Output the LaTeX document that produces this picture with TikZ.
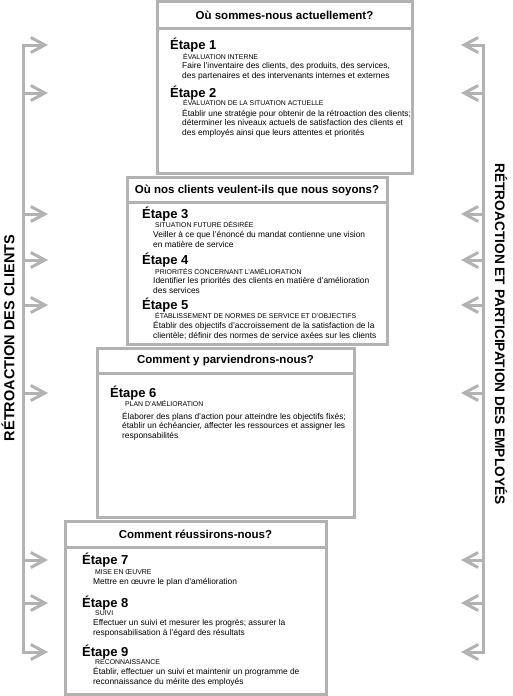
\documentclass[tikz,border=0pt]{standalone}
\usepackage{fontspec}
\setmainfont{Liberation Sans}
\usetikzlibrary{arrows.meta}
\definecolor{trait}{gray}{0.7}
\tikzset{
  cadre/.style={draw=trait, line width=3pt},
  titre/.style={font=\fontsize{11.5}{13}\selectfont\bfseries, inner sep=0pt},
  etape/.style={font=\fontsize{13}{15}\selectfont\bfseries, anchor=west, inner sep=0pt},
  rubrique/.style={font=\fontsize{6.9}{8}\selectfont, anchor=west, inner sep=0pt},
  texte/.style={font=\fontsize{8.4}{9.4}\selectfont, align=left, anchor=north west, inner sep=0pt},
  axe/.style={draw=trait, line width=3pt, line cap=rect},
  fleche/.style={draw=trait, line width=3pt, -{Straight Barb[length=14pt,width=15pt]}},
  cote/.style={font=\fontsize{14.5}{16}\selectfont\bfseries, inner sep=0pt}
}
\begin{document}
\begin{tikzpicture}[x=1pt, y=-1pt]
    \useasboundingbox (0,0) rectangle (512,696);
    % cadres
    \draw[cadre] (157,1.5) rectangle (412,173);
    \draw[cadre] (157,28) -- (412,28);
    \draw[cadre] (127,177) rectangle (387,344);
    \draw[cadre] (127,202) -- (387,202);
    \draw[cadre] (97,348) rectangle (354,517);
    \draw[cadre] (97,373) -- (354,373);
    \draw[cadre] (65,521) rectangle (326,694);
    \draw[cadre] (65,547) -- (326,547);
    % titres
    \node[titre] (titre1) at (284.5,15) {Où sommes-nous actuellement?};
    \node[titre] (titre2) at (257,190) {Où nos clients veulent-ils que nous soyons?};
    \node[titre] (titre3) at (225.5,361) {Comment y parviendrons-nous?};
    \node[titre] (titre4) at (195.5,534) {Comment réussirons-nous?};
    % etapes 1 et 2
    \node[etape] (etape1) at (170,45) {Étape 1};
    \node[rubrique] (rub1) at (183,57) {ÉVALUATION INTERNE};
    \node[texte] (texte1) at (182,62.5) {Faire l'inventaire des clients, des produits, des services,\\des partenaires et des intervenants internes et externes};
    \node[etape] (etape2) at (170,93) {Étape 2};
    \node[rubrique] (rub2) at (183,103) {ÉVALUATION DE LA SITUATION ACTUELLE};
    \node[texte] (texte2) at (182,109) {Établir une stratégie pour obtenir de la rétroaction des clients;\\déterminer les niveaux actuels de satisfaction des clients et\\des employés ainsi que leurs attentes et priorités};
    % etapes 3 a 5
    \node[etape] (etape3) at (142,214) {Étape 3};
    \node[rubrique] (rub3) at (155,225) {SITUATION FUTURE DÉSIRÉE};
    \node[texte] (texte3) at (153,231.5) {Veiller à ce que l'énoncé du mandat contienne une vision\\en matière de service};
    \node[etape] (etape4) at (142,260) {Étape 4};
    \node[rubrique] (rub4) at (155,272) {PRIORITÉS CONCERNANT L'AMÉLIORATION};
    \node[texte] (texte4) at (153,277.5) {Identifier les priorités des clients en matière d'amélioration\\des services};
    \node[etape] (etape5) at (142,305) {Étape 5};
    \node[rubrique] (rub5) at (155,316) {ÉTABLISSEMENT DE NORMES DE SERVICE ET D'OBJECTIFS};
    \node[texte] (texte5) at (153,321.5) {Établir des objectifs d'accroissement de la satisfaction de la\\clientèle; définir des normes de service axées sur les clients};
    % etape 6
    \node[etape] (etape6) at (110,393) {Étape 6};
    \node[rubrique] (rub6) at (125,404) {PLAN D'AMÉLIORATION};
    \node[texte] (texte6) at (122,412) {Élaborer des plans d'action pour atteindre les objectifs fixés;\\établir un échéancier, affecter les ressources et assigner les\\responsabilités};
    % etapes 7 a 9
    \node[etape] (etape7) at (82,560) {Étape 7};
    \node[rubrique] (rub7) at (95,572) {MISE EN ŒUVRE};
    \node[texte] (texte7) at (93,578.5) {Mettre en œuvre le plan d'amélioration};
    \node[etape] (etape8) at (82,603) {Étape 8};
    \node[rubrique] (rub8) at (95,613) {SUIVI};
    \node[texte] (texte8) at (93,619.5) {Effectuer un suivi et mesurer les progrès; assurer la\\responsabilisation à l'égard des résultats};
    \node[etape] (etape9) at (82,652) {Étape 9};
    \node[rubrique] (rub9) at (95,662) {RECONNAISSANCE};
    \node[texte] (texte9) at (93,667.5) {Établir, effectuer un suivi et maintenir un programme de\\reconnaissance du mérite des employés};
    % retroaction des clients (gauche)
    \coordinate (g1) at (23,45);  \coordinate (pg1) at (48,45);
    \coordinate (g2) at (23,93);  \coordinate (pg2) at (48,93);
    \coordinate (g3) at (23,214); \coordinate (pg3) at (48,214);
    \coordinate (g4) at (23,260); \coordinate (pg4) at (48,260);
    \coordinate (g5) at (23,305); \coordinate (pg5) at (48,305);
    \coordinate (g6) at (23,393); \coordinate (pg6) at (48,393);
    \coordinate (g7) at (23,560); \coordinate (pg7) at (48,560);
    \coordinate (g8) at (23,603); \coordinate (pg8) at (48,603);
    \coordinate (g9) at (23,652); \coordinate (pg9) at (48,652);
    \draw[axe] (g1) -- (g9);
    \draw[fleche] (g1) -- (pg1);
    \draw[fleche] (g2) -- (pg2);
    \draw[fleche] (g3) -- (pg3);
    \draw[fleche] (g4) -- (pg4);
    \draw[fleche] (g5) -- (pg5);
    \draw[fleche] (g6) -- (pg6);
    \draw[fleche] (g7) -- (pg7);
    \draw[fleche] (g8) -- (pg8);
    \draw[fleche] (g9) -- (pg9);
    % retroaction et participation des employes (droite)
    \coordinate (d1) at (483,45);  \coordinate (pd1) at (461,45);
    \coordinate (d2) at (483,93);  \coordinate (pd2) at (461,93);
    \coordinate (d3) at (483,214); \coordinate (pd3) at (461,214);
    \coordinate (d4) at (483,260); \coordinate (pd4) at (461,260);
    \coordinate (d5) at (483,305); \coordinate (pd5) at (461,305);
    \coordinate (d6) at (483,393); \coordinate (pd6) at (461,393);
    \coordinate (d7) at (483,560); \coordinate (pd7) at (461,560);
    \coordinate (d8) at (483,603); \coordinate (pd8) at (461,603);
    \coordinate (d9) at (483,652); \coordinate (pd9) at (461,652);
    \draw[axe] (d1) -- (d9);
    \draw[fleche] (d1) -- (pd1);
    \draw[fleche] (d2) -- (pd2);
    \draw[fleche] (d3) -- (pd3);
    \draw[fleche] (d4) -- (pd4);
    \draw[fleche] (d5) -- (pd5);
    \draw[fleche] (d6) -- (pd6);
    \draw[fleche] (d7) -- (pd7);
    \draw[fleche] (d8) -- (pd8);
    \draw[fleche] (d9) -- (pd9);
    % libelles lateraux
    \node[cote, rotate=90] (clients) at (8,338) {RÉTROACTION DES CLIENTS};
    \node[cote, rotate=-90, font=\fontsize{13.7}{16}\selectfont\bfseries] (employes) at (501,334) {RÉTROACTION ET PARTICIPATION DES EMPLOYÉS};
\end{tikzpicture}
\end{document}
